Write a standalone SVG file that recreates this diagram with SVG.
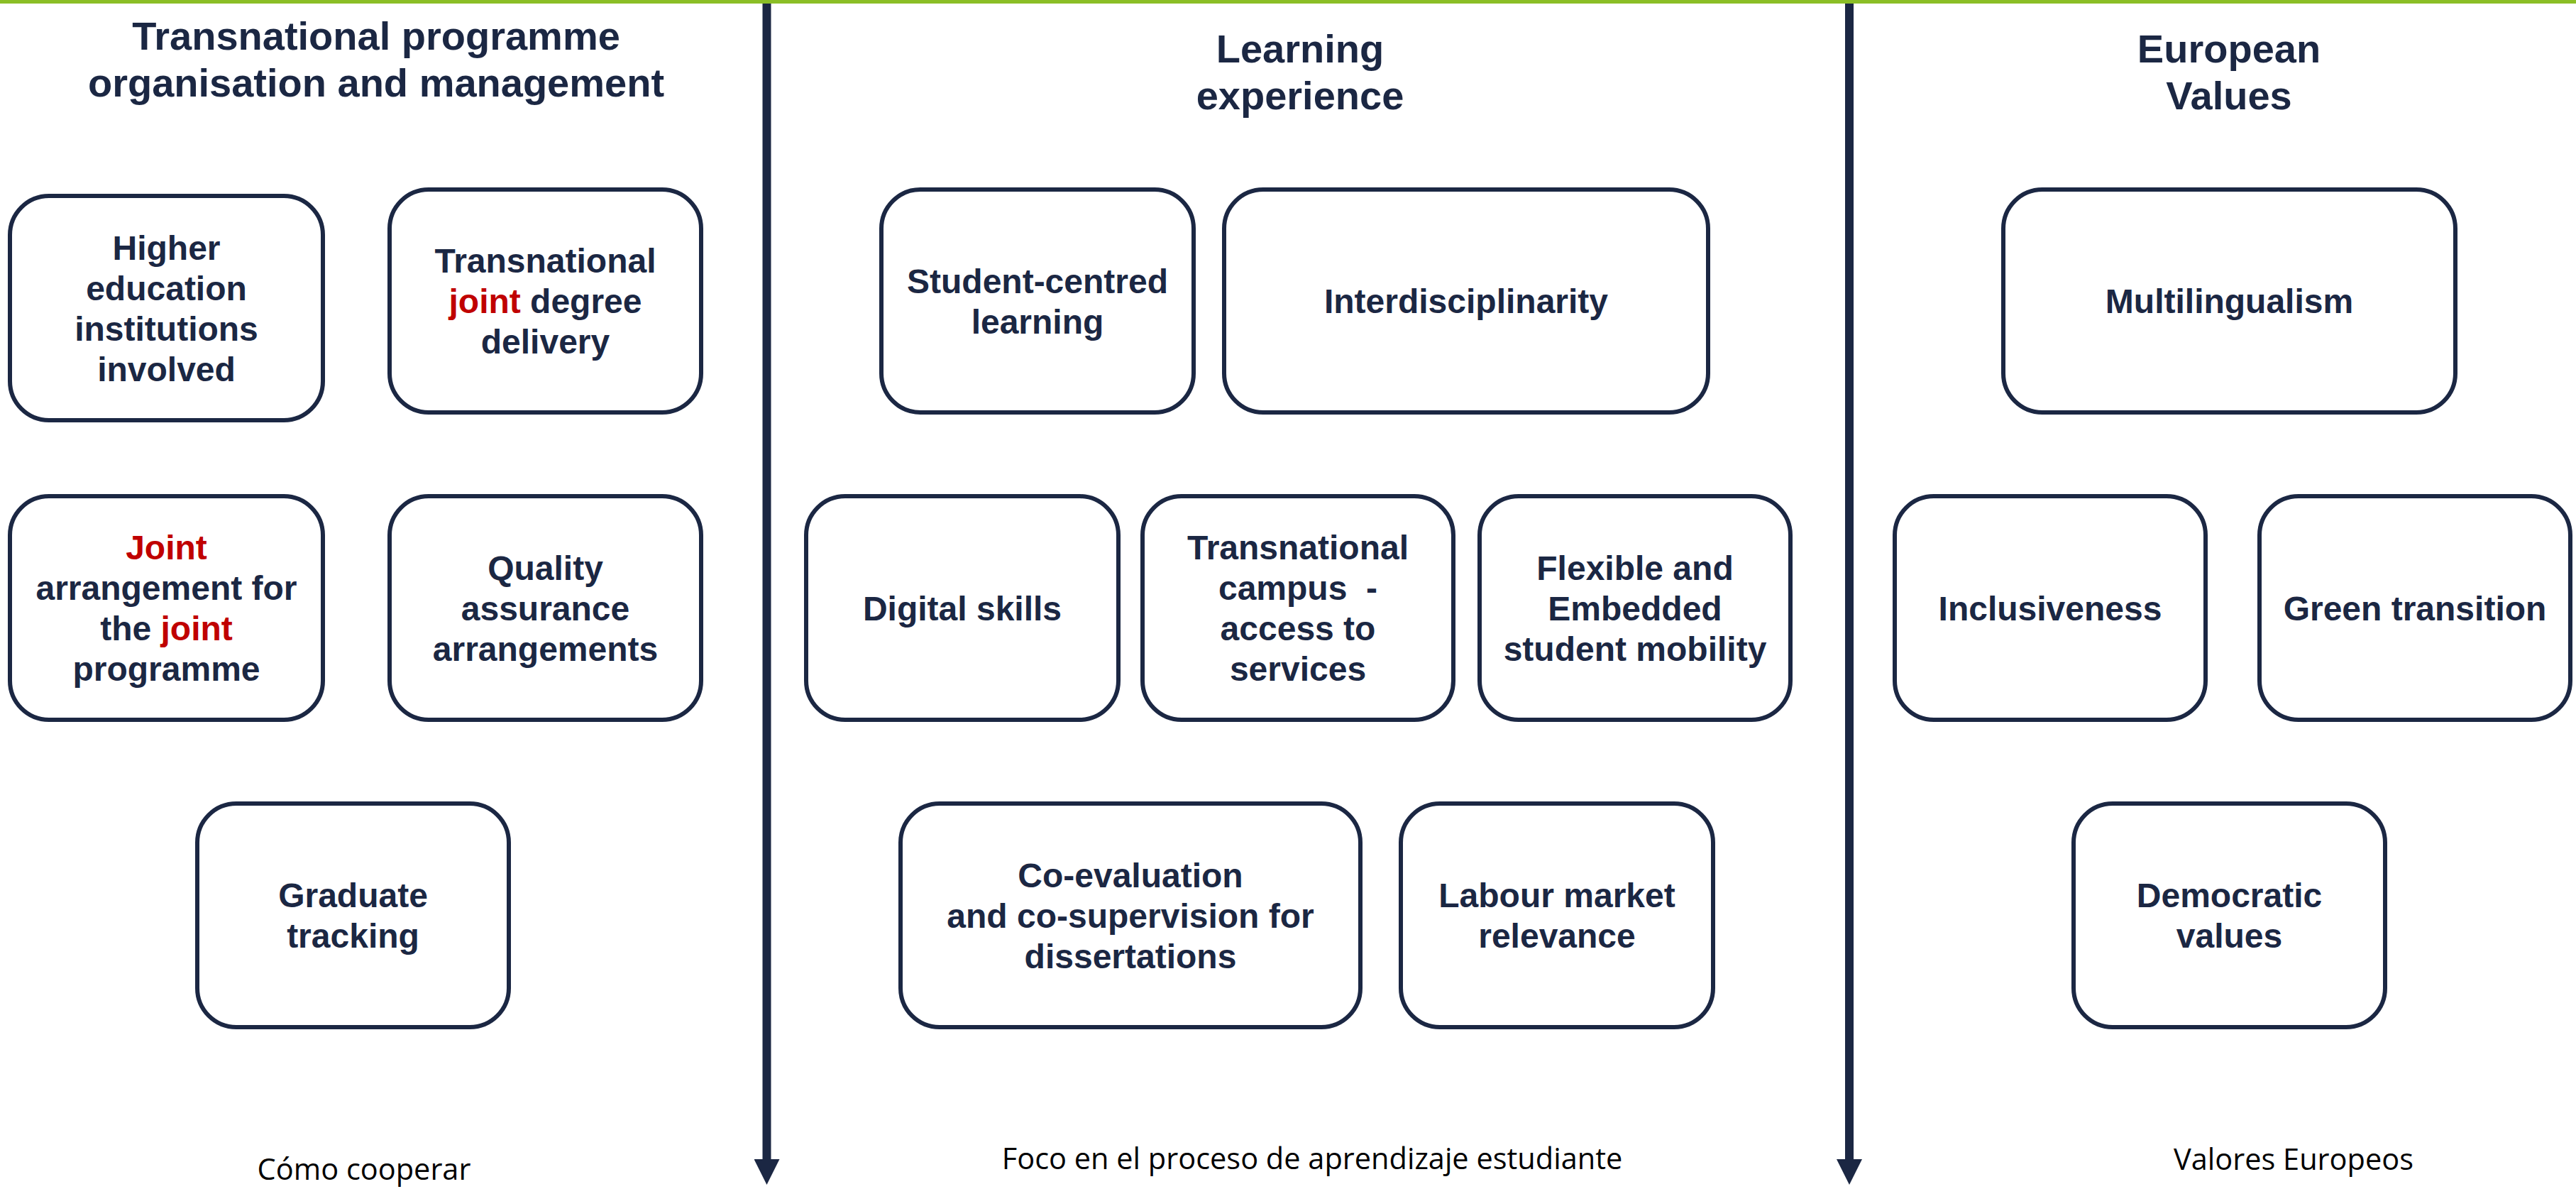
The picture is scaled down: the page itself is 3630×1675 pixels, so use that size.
<svg xmlns="http://www.w3.org/2000/svg" width="3630" height="1675" viewBox="0 0 3630 1675">
<style>
.box{fill:#ffffff;stroke:#1B2743;stroke-width:6}
.lbl{font-family:"Liberation Sans",Arial,sans-serif;font-weight:bold;font-size:48px;fill:#1B2743;text-anchor:middle}
.title{font-family:"Liberation Sans",Arial,sans-serif;font-weight:bold;font-size:56px;fill:#1B2743;text-anchor:middle}
.red{fill:#C00000}
.foot{font-family:"Open Sans","Liberation Sans",sans-serif;font-size:41.5px;fill:#000000;text-anchor:middle}
.axis{stroke:#1B2743;stroke-width:12;fill:none}
</style>
<defs>
<marker id="arrow" viewBox="0 0 36 36" markerWidth="36" markerHeight="36" markerUnits="userSpaceOnUse" refX="0" refY="18" orient="auto">
<path d="M0,0 L36,18 L0,36 Z" fill="#1B2743"/>
</marker>
</defs>
<rect x="0" y="0" width="3630" height="1675" fill="#ffffff"/>
<rect x="0" y="0" width="3630" height="5" fill="#8BBE26"/>

<g id="connectors">
<line class="axis" x1="1080.5" y1="5" x2="1080.5" y2="1633" marker-end="url(#arrow)"/>
<line class="axis" x1="2606" y1="5" x2="2606" y2="1633" marker-end="url(#arrow)"/>
</g>

<g id="titles">
<text class="title" x="530" y="70">Transnational programme</text>
<text class="title" x="530" y="136">organisation and management</text>
<text class="title" x="1832" y="88">Learning</text>
<text class="title" x="1832" y="154">experience</text>
<text class="title" x="3141" y="88">European</text>
<text class="title" x="3141" y="154">Values</text>
</g>

<g id="n-higher">
<rect class="box" x="14" y="276" width="441" height="316" rx="55"/>
<text class="lbl" x="234.5" y="365.5">Higher</text>
<text class="lbl" x="234.5" y="422.5">education</text>
<text class="lbl" x="234.5" y="479.5">institutions</text>
<text class="lbl" x="234.5" y="536.5">involved</text>
</g>
<g id="n-delivery">
<rect class="box" x="549" y="267" width="439" height="314" rx="55"/>
<text class="lbl" x="768.5" y="384">Transnational</text>
<text class="lbl" x="768.5" y="441"><tspan class="red">joint</tspan> degree</text>
<text class="lbl" x="768.5" y="498">delivery</text>
</g>
<g id="n-joint">
<rect class="box" x="14" y="699" width="441" height="315" rx="55"/>
<text class="lbl red" x="234.5" y="788">Joint</text>
<text class="lbl" x="234.5" y="845">arrangement for</text>
<text class="lbl" x="234.5" y="902">the <tspan class="red">joint</tspan></text>
<text class="lbl" x="234.5" y="959">programme</text>
</g>
<g id="n-quality">
<rect class="box" x="549" y="699" width="439" height="315" rx="55"/>
<text class="lbl" x="768.5" y="816.5">Quality</text>
<text class="lbl" x="768.5" y="873.5">assurance</text>
<text class="lbl" x="768.5" y="930.5">arrangements</text>
</g>
<g id="n-graduate">
<rect class="box" x="278" y="1132" width="439" height="315" rx="55"/>
<text class="lbl" x="497.5" y="1278">Graduate</text>
<text class="lbl" x="497.5" y="1335">tracking</text>
</g>

<g id="n-student">
<rect class="box" x="1242" y="267" width="440" height="314" rx="55"/>
<text class="lbl" x="1462" y="412.5">Student-centred</text>
<text class="lbl" x="1462" y="469.5">learning</text>
</g>
<g id="n-interdisciplinarity">
<rect class="box" x="1725" y="267" width="682" height="314" rx="55"/>
<text class="lbl" x="2066" y="441">Interdisciplinarity</text>
</g>
<g id="n-digital">
<rect class="box" x="1136" y="699" width="440" height="315" rx="55"/>
<text class="lbl" x="1356" y="873.5">Digital skills</text>
</g>
<g id="n-campus">
<rect class="box" x="1610" y="699" width="438" height="315" rx="55"/>
<text class="lbl" x="1829" y="788">Transnational</text>
<text class="lbl" x="1829" y="845" xml:space="preserve">campus  -</text>
<text class="lbl" x="1829" y="902">access to</text>
<text class="lbl" x="1829" y="959">services</text>
</g>
<g id="n-mobility">
<rect class="box" x="2085" y="699" width="438" height="315" rx="55"/>
<text class="lbl" x="2304" y="816.5">Flexible and</text>
<text class="lbl" x="2304" y="873.5">Embedded</text>
<text class="lbl" x="2304" y="930.5">student mobility</text>
</g>
<g id="n-coevaluation">
<rect class="box" x="1269" y="1132" width="648" height="315" rx="55"/>
<text class="lbl" x="1593" y="1249.5">Co-evaluation</text>
<text class="lbl" x="1593" y="1306.5">and co-supervision for</text>
<text class="lbl" x="1593" y="1363.5">dissertations</text>
</g>
<g id="n-labour">
<rect class="box" x="1974" y="1132" width="440" height="315" rx="55"/>
<text class="lbl" x="2194" y="1278">Labour market</text>
<text class="lbl" x="2194" y="1335">relevance</text>
</g>

<g id="n-multilingualism">
<rect class="box" x="2823" y="267" width="637" height="314" rx="55"/>
<text class="lbl" x="3141.5" y="441">Multilingualism</text>
</g>
<g id="n-inclusiveness">
<rect class="box" x="2670" y="699" width="438" height="315" rx="55"/>
<text class="lbl" x="2889" y="873.5">Inclusiveness</text>
</g>
<g id="n-green">
<rect class="box" x="3184" y="699" width="438" height="315" rx="55"/>
<text class="lbl" x="3403" y="873.5">Green transition</text>
</g>
<g id="n-democratic">
<rect class="box" x="2922" y="1132" width="439" height="315" rx="55"/>
<text class="lbl" x="3141.5" y="1278">Democratic</text>
<text class="lbl" x="3141.5" y="1335">values</text>
</g>

<g id="footers">
<text class="foot" x="513" y="1662">Cómo cooperar</text>
<text class="foot" x="1849" y="1647">Foco en el proceso de aprendizaje estudiante</text>
<text class="foot" x="3232" y="1648">Valores Europeos</text>
</g>
</svg>
